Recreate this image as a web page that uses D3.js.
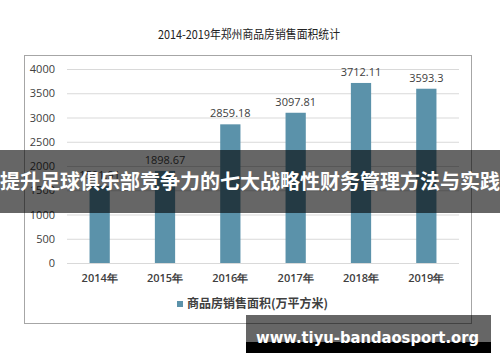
<!DOCTYPE html>
<html><head><meta charset="utf-8">
<script src="https://cdn.jsdelivr.net/npm/d3@7"></script>
<style>html,body{margin:0;padding:0;background:#fff;}svg{display:block;}</style>
</head><body>
<svg id="c" width="500" height="362"></svg>
<script>
const categories = ["2014年","2015年","2016年","2017年","2018年","2019年"];
const values = [1591.91, 1898.67, 2859.18, 3097.81, 3712.11, 3593.3];
const valueLabels = ["1591.91","1898.67","2859.18","3097.81","3712.11","3593.3"];
const yTicks = [0,500,1000,1500,2000,2500,3000,3500,4000];
const title = "2014-2019年郑州商品房销售面积统计";
const legendLabel = "商品房销售面积(万平方米)";
const bannerText = "提升足球俱乐部竞争力的七大战略性财务管理方法与实践";
const watermark = "www.tiyu-bandaosport.org";

const svg = d3.select("#c");
const numFont = "'Open Sans', 'Liberation Sans', sans-serif";
const cjkFont = "'Noto Sans CJK SC', sans-serif";

// frame
svg.append("rect").attr("x",24.5).attr("y",55.5).attr("width",447).attr("height",268)
  .attr("fill","#fff").attr("stroke","#a6a6a6").attr("stroke-width",1);

svg.append("text").attr("x",249).attr("y",39).attr("text-anchor","middle")
  .attr("font-family",cjkFont).attr("font-size",12).attr("fill","#222")
  .attr("textLength",182).attr("lengthAdjust","spacingAndGlyphs").text(title);

const x = d3.scaleBand().domain(categories).range([67,459]).paddingInner(0.69).paddingOuter(0.345);
const y = d3.scaleLinear().domain([0,4000]).range([263,69]);

// grid
svg.append("g").selectAll("line").data(yTicks).join("line")
  .attr("x1",67).attr("x2",459).attr("y1",d=>y(d)+0.5).attr("y2",d=>y(d)+0.5)
  .attr("stroke","#d9d9d9").attr("stroke-width",1);

// y axis
const ya = svg.append("g").attr("transform","translate(62,0)")
  .call(d3.axisLeft(y).tickValues(yTicks).tickFormat(d3.format("d")).tickSize(0).tickPadding(7));
ya.select(".domain").remove();
ya.selectAll("text").attr("font-family",numFont).attr("font-size",11).attr("fill","#404040");

// x axis
const xa = svg.append("g").attr("transform","translate(0,263)")
  .call(d3.axisBottom(x).tickSize(0).tickPadding(11));
xa.select(".domain").remove();
xa.selectAll("text").attr("font-family",numFont).attr("font-size",11).attr("font-weight",600).attr("fill","#404040");

// bars
svg.append("g").selectAll("rect").data(values).join("rect")
  .attr("x",(d,i)=>x(categories[i])).attr("width",x.bandwidth())
  .attr("y",d=>y(d)).attr("height",d=>y(0)-y(d)).attr("fill","#5b92aa");

svg.append("g").selectAll("text").data(values).join("text")
  .attr("x",(d,i)=>x(categories[i])+x.bandwidth()/2).attr("y",d=>y(d)-7)
  .attr("text-anchor","middle").attr("font-family",numFont).attr("font-size",11)
  .attr("fill","#404040").text((d,i)=>valueLabels[i]);

// legend
svg.append("rect").attr("x",177).attr("y",301).attr("width",6).attr("height",6).attr("fill","#5b92aa");
svg.append("text").attr("x",187).attr("y",308).attr("font-family",cjkFont).attr("font-size",12)
  .attr("font-weight",700).attr("fill","#404040").text(legendLabel);

// banner overlay
svg.append("rect").attr("x",0).attr("y",150).attr("width",500).attr("height",63).attr("fill","rgba(0,0,0,0.6)");
svg.append("text").attr("x",250).attr("y",189).attr("text-anchor","middle")
  .attr("font-family",cjkFont).attr("font-size",20).attr("font-weight",700).attr("fill","#fff")
  .attr("textLength",500).attr("lengthAdjust","spacingAndGlyphs").text(bannerText);

// watermark
svg.append("rect").attr("x",246).attr("y",315).attr("width",245).attr("height",27).attr("fill","rgba(0,0,0,0.6)");
svg.append("rect").attr("x",246).attr("y",342).attr("width",245).attr("height",11).attr("fill","#000");
svg.append("text").attr("x",256).attr("y",343).attr("font-family","'DejaVu Sans', sans-serif")
  .attr("font-size",16).attr("font-weight",700).attr("fill","#fff")
  .attr("textLength",223).attr("lengthAdjust","spacingAndGlyphs").text(watermark);
</script>
</body></html>
